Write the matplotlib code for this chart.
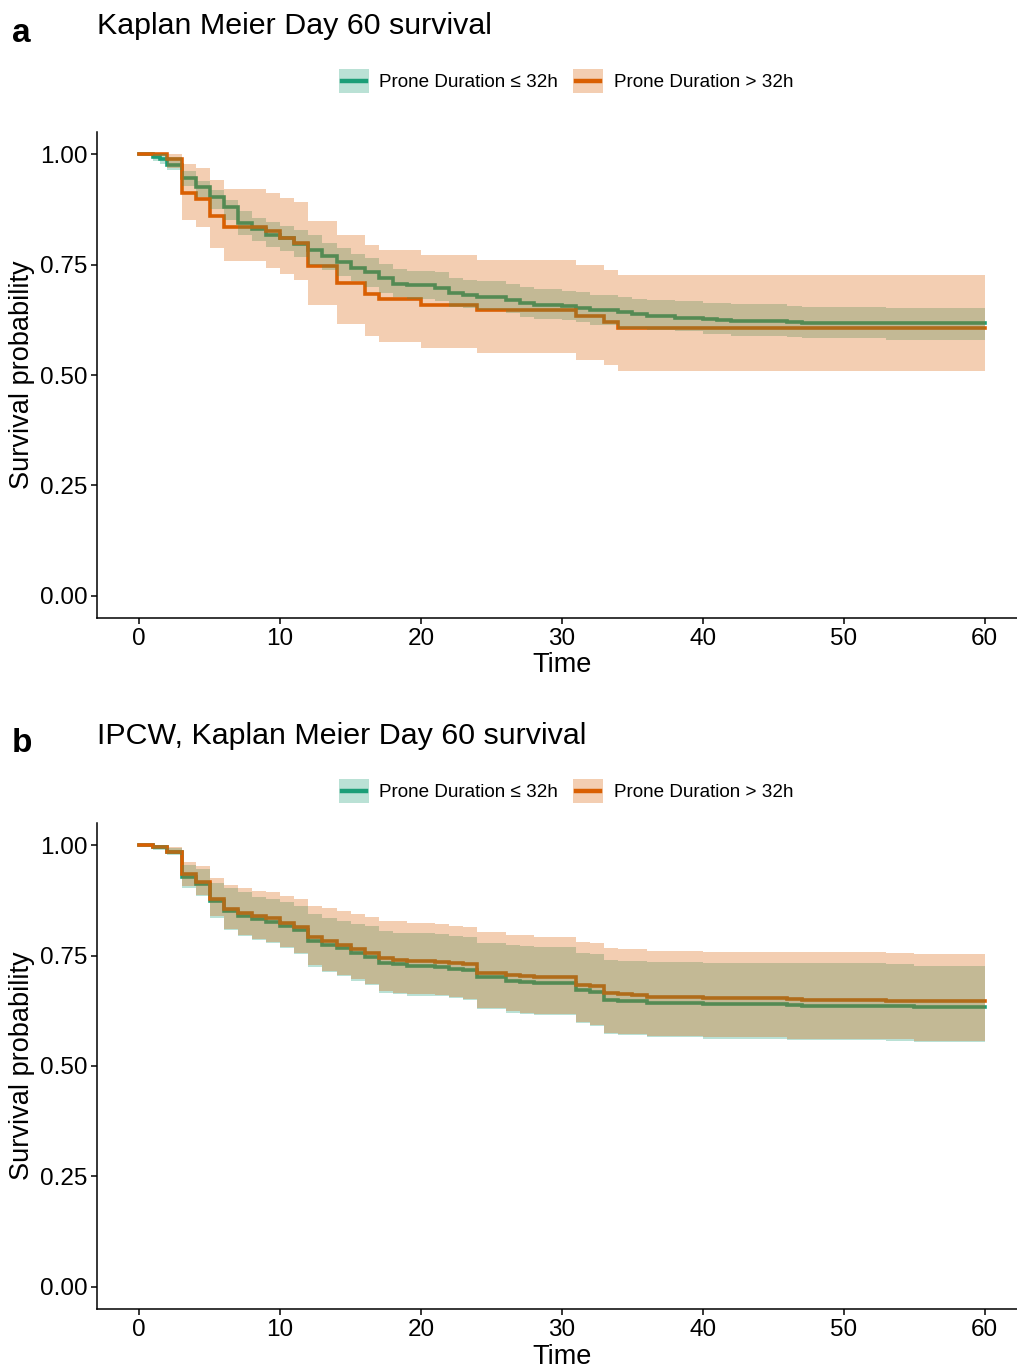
import matplotlib
matplotlib.use("Agg")
import matplotlib.pyplot as plt
from matplotlib.patches import Patch, Rectangle
from matplotlib.lines import Line2D

plt.rcParams['font.family'] = ['Liberation Sans', 'DejaVu Sans']

# groups / colours
groups = ['Prone Duration \u2264 32h', 'Prone Duration > 32h']
colors = ['#1B9E77', '#D95F02']

# panel a : Kaplan Meier, prone <= 32h
a_short_time = [0, 1, 1.5, 2, 3, 4, 5, 6, 7, 8, 9, 10, 11, 12, 13, 14, 15, 16, 17, 18, 19,
                21, 22, 23, 24, 26, 27, 28, 30, 31, 32, 34, 35, 36, 38, 40, 41, 42, 46, 47, 53, 60]
a_short_surv = [1.0, .994, .989, .975, .945, .926, .903, .881, .845, .830, .818, .809, .797, .783,
                .769, .756, .743, .732, .719, .707, .703, .696, .685, .680, .677, .670, .664, .659,
                .656, .652, .646, .642, .637, .633, .630, .627, .624, .622, .620, .618, .617, .617]
a_short_hi = [1.0, 1.0, 1.0, .994, .962, .940, .919, .897, .872, .856, .847, .838, .828, .817,
              .799, .788, .774, .764, .751, .740, .736, .732, .720, .716, .713, .705, .700, .695,
              .691, .687, .681, .677, .672, .670, .667, .662, .662, .660, .657, .655, .651, .651]
a_short_lo = [1.0, .985, .978, .964, .928, .903, .875, .851, .818, .803, .790, .781, .766, .750,
              .738, .724, .713, .700, .686, .677, .671, .667, .655, .651, .646, .640, .632, .627,
              .624, .621, .613, .605, .605, .602, .599, .593, .593, .589, .585, .583, .580, .580]

# panel a : Kaplan Meier, prone > 32h
a_long_time = [0, 2, 3, 4, 5, 6, 9, 10, 11, 12, 14, 16, 17, 20, 24, 31, 33, 34, 60]
a_long_surv = [1.0, .989, .912, .899, .861, .836, .827, .811, .798, .747, .709, .683, .671,
               .659, .646, .633, .621, .607, .607]
a_long_hi = [1.0, 1.0, .977, .968, .941, .921, .911, .901, .891, .849, .817, .794, .783,
             .771, .760, .748, .738, .726, .726]
a_long_lo = [1.0, .968, .851, .835, .788, .759, .743, .729, .715, .658, .616, .589, .575,
             .562, .549, .535, .523, .510, .510]

# panel b : IPCW Kaplan Meier
b_time = [0, 1, 2, 3, 4, 5, 6, 7, 8, 9, 10, 11, 12, 13, 14, 15, 16, 17, 18, 19, 21, 22, 23,
          24, 26, 27, 28, 31, 32, 33, 34, 35, 36, 40, 46, 47, 53, 55, 60]
b_short_surv = [1.0, .996, .985, .928, .913, .874, .851, .840, .833, .827, .817, .808, .784,
                .774, .766, .756, .747, .734, .730, .726, .725, .719, .717, .701, .693, .690,
                .687, .673, .668, .649, .647, .646, .643, .640, .638, .636, .635, .633, .633]
b_short_hi = [1.0, 1.0, .993, .955, .945, .915, .902, .893, .883, .879, .872, .862, .845,
              .836, .829, .821, .817, .806, .800, .800, .799, .795, .793, .779, .774, .772,
              .770, .756, .753, .741, .738, .738, .735, .733, .732, .732, .731, .726, .726]
b_short_lo = [1.0, .990, .977, .904, .885, .836, .808, .794, .785, .778, .766, .753, .725,
              .713, .704, .693, .683, .666, .663, .659, .658, .653, .649, .629, .621, .618,
              .615, .597, .590, .572, .570, .570, .566, .562, .559, .559, .557, .554, .554]
b_long_surv = [1.0, .996, .985, .934, .917, .878, .855, .847, .839, .834, .823, .814, .791,
               .784, .774, .765, .756, .744, .741, .738, .736, .732, .731, .711, .707, .704,
               .701, .683, .680, .666, .662, .660, .657, .653, .651, .649, .648, .646, .646]
b_long_hi = [1.0, 1.0, .995, .961, .952, .925, .910, .902, .896, .893, .885, .879, .863,
             .857, .851, .844, .838, .829, .829, .823, .821, .818, .815, .804, .796, .796,
             .793, .781, .778, .766, .764, .764, .761, .759, .757, .757, .756, .753, .753]
b_long_lo = [1.0, .993, .980, .907, .888, .839, .811, .797, .788, .781, .769, .756, .728,
             .716, .707, .696, .686, .669, .666, .662, .661, .656, .652, .632, .624, .621,
             .618, .600, .593, .575, .573, .573, .569, .565, .562, .562, .560, .557, .557]

x_ticks = [0, 10, 20, 30, 40, 50, 60]
y_ticks = [0.0, 0.25, 0.5, 0.75, 1.0]

W, H = 1017, 1370
fig = plt.figure(figsize=(W / 100, H / 100), dpi=100)


class KeyHandler(object):
    # ggplot style key: light filled square with a line through the middle
    def legend_artist(self, legend, orig_handle, fontsize, handlebox):
        x0, y0 = handlebox.xdescent, handlebox.ydescent
        w, h = handlebox.width, handlebox.height
        c = orig_handle.get_facecolor()[:3]
        rect = Rectangle((-x0, -y0), w, h, facecolor=c, alpha=0.3, edgecolor='none',
                         transform=handlebox.get_transform())
        line = Line2D([-x0 + 0.1 * w, -x0 + 0.9 * w], [-y0 + h / 2] * 2, color=c, lw=3.2,
                      transform=handlebox.get_transform())
        handlebox.add_artist(rect)
        handlebox.add_artist(line)
        return rect


def km_panel(top_px, curves):
    ax = fig.add_axes([97 / W, 1 - (top_px + 486) / H, 930 / W, 486 / H])
    for (t, s, lo, hi), c in zip(curves, colors):
        ax.step(t, s, where='post', color=c, lw=2.6, zorder=2, solid_joinstyle='miter')
    for (t, s, lo, hi), c in zip(curves, colors):
        ax.fill_between(t, lo, hi, step='post', color=c, alpha=0.3, lw=0, zorder=3)
    ax.set_xlim(-3, 63)
    ax.set_ylim(-0.05, 1.05)
    ax.set_xticks(x_ticks)
    ax.set_yticks(y_ticks)
    ax.set_yticklabels(['%.2f' % v for v in y_ticks])
    for side in ['top', 'right']:
        ax.spines[side].set_visible(False)
    for side in ['left', 'bottom']:
        ax.spines[side].set_linewidth(1.1)
    ax.tick_params(length=4, width=1.1, labelsize=17.5, pad=3, colors='black')
    ax.set_xlabel('Time', fontsize=19.5, labelpad=2)
    ax.set_ylabel('Survival probability', fontsize=19.5, labelpad=3)
    return ax


def legend_at(y_px):
    handles = [Patch(facecolor=c) for c in colors]
    fig.legend(handles, groups, handler_map={Patch: KeyHandler()},
               loc='center', bbox_to_anchor=(566 / W, 1 - y_px / H), ncol=2, frameon=False,
               fontsize=13.6, handlelength=1.6, handleheight=1.6, handletextpad=0.55,
               columnspacing=0.8, borderpad=0)


km_panel(132, [(a_short_time, a_short_surv, a_short_lo, a_short_hi),
               (a_long_time, a_long_surv, a_long_lo, a_long_hi)])
km_panel(823, [(b_time, b_short_surv, b_short_lo, b_short_hi),
               (b_time, b_long_surv, b_long_lo, b_long_hi)])

fig.text(12 / W, 1 - 42 / H, 'a', fontsize=24, fontweight='bold', ha='left', va='baseline')
fig.text(97 / W, 1 - 34 / H, 'Kaplan Meier Day 60 survival', fontsize=21.9, ha='left', va='baseline')
legend_at(81)

fig.text(12 / W, 1 - 752 / H, 'b', fontsize=24, fontweight='bold', ha='left', va='baseline')
fig.text(97 / W, 1 - 744 / H, 'IPCW, Kaplan Meier Day 60 survival', fontsize=21.9, ha='left', va='baseline')
legend_at(791)

fig.savefig('out.png', dpi=100)
